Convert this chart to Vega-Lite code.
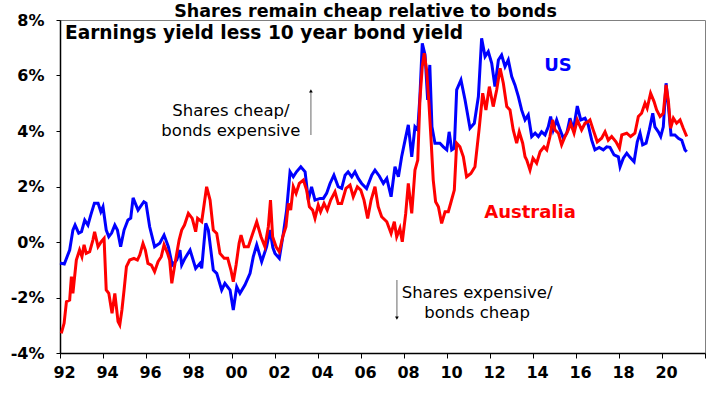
{
  "$schema": "https://vega.github.io/schema/vega-lite/v6.json",
  "width": 645,
  "height": 333,
  "autosize": {"type": "none"},
  "padding": {"left": 60, "top": 20, "right": 15, "bottom": 40},
  "background": "white",
  "title": {"text": "Shares remain cheap relative to bonds", "font": "DejaVu Sans", "fontSize": 17.5, "fontWeight": "bold", "anchor": "middle", "dx": -17, "dy": 10, "offset": 2, "color": "black"},
  "config": {
    "view": {"stroke": "#808080", "strokeWidth": 1},
    "axis": {"grid": false, "labelFont": "DejaVu Sans", "labelFontWeight": "bold", "labelFontSize": 16, "labelColor": "black", "domainColor": "black", "tickColor": "black", "title": null}
  },
  "datasets": {
    "series": [
      {"d":1992.0,"s":"US","v":-0.76},{"d":1992.2,"s":"US","v":-0.79},{"d":1992.45,"s":"US","v":-0.29},{"d":1992.6,"s":"US","v":0.43},{"d":1992.7,"s":"US","v":0.61},{"d":1992.87,"s":"US","v":0.32},{"d":1993.0,"s":"US","v":0.37},{"d":1993.15,"s":"US","v":0.79},{"d":1993.3,"s":"US","v":0.61},{"d":1993.43,"s":"US","v":0.97},{"d":1993.6,"s":"US","v":1.4},{"d":1993.77,"s":"US","v":1.4},{"d":1993.9,"s":"US","v":1.09},{"d":1994.0,"s":"US","v":1.27},{"d":1994.15,"s":"US","v":0.43},{"d":1994.27,"s":"US","v":0.19},{"d":1994.4,"s":"US","v":0.32},{"d":1994.55,"s":"US","v":0.61},{"d":1994.67,"s":"US","v":0.43},{"d":1994.82,"s":"US","v":-0.17},{"d":1994.98,"s":"US","v":0.43},{"d":1995.16,"s":"US","v":0.79},{"d":1995.29,"s":"US","v":0.86},{"d":1995.4,"s":"US","v":1.59},{"d":1995.63,"s":"US","v":1.15},{"d":1995.9,"s":"US","v":1.45},{"d":1996.0,"s":"US","v":1.4},{"d":1996.17,"s":"US","v":0.55},{"d":1996.4,"s":"US","v":-0.17},{"d":1996.64,"s":"US","v":-0.04},{"d":1996.84,"s":"US","v":0.25},{"d":1997.04,"s":"US","v":-0.17},{"d":1997.22,"s":"US","v":-0.83},{"d":1997.43,"s":"US","v":-0.65},{"d":1997.58,"s":"US","v":-0.29},{"d":1997.66,"s":"US","v":-0.83},{"d":1997.81,"s":"US","v":-0.59},{"d":1998.05,"s":"US","v":-0.29},{"d":1998.31,"s":"US","v":-0.95},{"d":1998.51,"s":"US","v":-0.77},{"d":1998.59,"s":"US","v":-0.95},{"d":1998.78,"s":"US","v":0.67},{"d":1998.9,"s":"US","v":0.43},{"d":1999.13,"s":"US","v":-1.01},{"d":1999.29,"s":"US","v":-1.13},{"d":1999.52,"s":"US","v":-1.73},{"d":1999.67,"s":"US","v":-1.49},{"d":1999.91,"s":"US","v":-1.73},{"d":2000.06,"s":"US","v":-2.45},{"d":2000.22,"s":"US","v":-1.61},{"d":2000.37,"s":"US","v":-1.85},{"d":2000.6,"s":"US","v":-1.55},{"d":2000.84,"s":"US","v":-1.13},{"d":2000.99,"s":"US","v":-0.53},{"d":2001.15,"s":"US","v":-0.1},{"d":2001.38,"s":"US","v":-0.71},{"d":2001.61,"s":"US","v":-0.17},{"d":2001.77,"s":"US","v":0.43},{"d":2001.9,"s":"US","v":-0.2},{"d":2002.0,"s":"US","v":-0.41},{"d":2002.2,"s":"US","v":-0.59},{"d":2002.39,"s":"US","v":0.32},{"d":2002.54,"s":"US","v":1.15},{"d":2002.7,"s":"US","v":2.53},{"d":2002.85,"s":"US","v":2.35},{"d":2003.0,"s":"US","v":2.53},{"d":2003.2,"s":"US","v":2.71},{"d":2003.4,"s":"US","v":2.53},{"d":2003.55,"s":"US","v":1.51},{"d":2003.7,"s":"US","v":1.99},{"d":2003.86,"s":"US","v":1.51},{"d":2004.1,"s":"US","v":1.57},{"d":2004.25,"s":"US","v":1.57},{"d":2004.4,"s":"US","v":1.75},{"d":2004.56,"s":"US","v":2.11},{"d":2004.74,"s":"US","v":2.41},{"d":2004.94,"s":"US","v":1.99},{"d":2005.1,"s":"US","v":1.93},{"d":2005.26,"s":"US","v":2.41},{"d":2005.4,"s":"US","v":2.53},{"d":2005.57,"s":"US","v":2.35},{"d":2005.72,"s":"US","v":2.53},{"d":2005.87,"s":"US","v":2.29},{"d":2006.03,"s":"US","v":2.11},{"d":2006.26,"s":"US","v":1.93},{"d":2006.5,"s":"US","v":2.41},{"d":2006.65,"s":"US","v":2.59},{"d":2006.85,"s":"US","v":2.38},{"d":2007.04,"s":"US","v":2.11},{"d":2007.2,"s":"US","v":2.29},{"d":2007.4,"s":"US","v":1.63},{"d":2007.58,"s":"US","v":2.71},{"d":2007.74,"s":"US","v":2.35},{"d":2007.89,"s":"US","v":3.07},{"d":2008.05,"s":"US","v":3.67},{"d":2008.2,"s":"US","v":4.22},{"d":2008.36,"s":"US","v":3.07},{"d":2008.51,"s":"US","v":4.15},{"d":2008.64,"s":"US","v":4.04},{"d":2008.74,"s":"US","v":5.24},{"d":2008.85,"s":"US","v":7.16},{"d":2008.98,"s":"US","v":6.74},{"d":2009.1,"s":"US","v":5.12},{"d":2009.2,"s":"US","v":6.38},{"d":2009.3,"s":"US","v":4.15},{"d":2009.44,"s":"US","v":3.56},{"d":2009.67,"s":"US","v":3.56},{"d":2009.83,"s":"US","v":3.43},{"d":2009.99,"s":"US","v":3.32},{"d":2010.1,"s":"US","v":3.97},{"d":2010.22,"s":"US","v":3.32},{"d":2010.34,"s":"US","v":3.38},{"d":2010.45,"s":"US","v":5.48},{"d":2010.65,"s":"US","v":5.84},{"d":2010.84,"s":"US","v":5.12},{"d":2011.07,"s":"US","v":4.1},{"d":2011.27,"s":"US","v":4.28},{"d":2011.46,"s":"US","v":5.24},{"d":2011.61,"s":"US","v":7.34},{"d":2011.77,"s":"US","v":6.68},{"d":2011.92,"s":"US","v":6.86},{"d":2012.08,"s":"US","v":6.44},{"d":2012.23,"s":"US","v":5.6},{"d":2012.39,"s":"US","v":6.56},{"d":2012.54,"s":"US","v":6.74},{"d":2012.7,"s":"US","v":6.32},{"d":2012.85,"s":"US","v":6.56},{"d":2013.01,"s":"US","v":5.96},{"d":2013.16,"s":"US","v":5.66},{"d":2013.32,"s":"US","v":5.24},{"d":2013.47,"s":"US","v":4.76},{"d":2013.63,"s":"US","v":4.4},{"d":2013.78,"s":"US","v":4.58},{"d":2013.94,"s":"US","v":3.8},{"d":2014.1,"s":"US","v":3.92},{"d":2014.25,"s":"US","v":3.8},{"d":2014.4,"s":"US","v":3.97},{"d":2014.56,"s":"US","v":3.86},{"d":2014.71,"s":"US","v":4.15},{"d":2014.82,"s":"US","v":4.52},{"d":2014.94,"s":"US","v":4.04},{"d":2015.1,"s":"US","v":4.4},{"d":2015.26,"s":"US","v":4.04},{"d":2015.41,"s":"US","v":3.74},{"d":2015.57,"s":"US","v":3.92},{"d":2015.72,"s":"US","v":4.46},{"d":2015.88,"s":"US","v":4.04},{"d":2016.06,"s":"US","v":4.9},{"d":2016.22,"s":"US","v":4.4},{"d":2016.42,"s":"US","v":4.46},{"d":2016.57,"s":"US","v":4.22},{"d":2016.73,"s":"US","v":3.67},{"d":2016.88,"s":"US","v":3.32},{"d":2017.08,"s":"US","v":3.41},{"d":2017.27,"s":"US","v":3.32},{"d":2017.43,"s":"US","v":3.43},{"d":2017.58,"s":"US","v":3.41},{"d":2017.77,"s":"US","v":3.14},{"d":2017.97,"s":"US","v":3.07},{"d":2018.05,"s":"US","v":2.71},{"d":2018.2,"s":"US","v":3.02},{"d":2018.36,"s":"US","v":3.2},{"d":2018.51,"s":"US","v":3.05},{"d":2018.7,"s":"US","v":2.89},{"d":2018.85,"s":"US","v":3.61},{"d":2018.98,"s":"US","v":3.92},{"d":2019.1,"s":"US","v":3.5},{"d":2019.26,"s":"US","v":3.56},{"d":2019.41,"s":"US","v":4.04},{"d":2019.57,"s":"US","v":4.64},{"d":2019.67,"s":"US","v":4.15},{"d":2019.83,"s":"US","v":3.97},{"d":2019.94,"s":"US","v":3.8},{"d":2020.06,"s":"US","v":4.15},{"d":2020.19,"s":"US","v":5.72},{"d":2020.3,"s":"US","v":4.88},{"d":2020.42,"s":"US","v":3.86},{"d":2020.6,"s":"US","v":3.86},{"d":2020.76,"s":"US","v":3.74},{"d":2020.92,"s":"US","v":3.67},{"d":2021.07,"s":"US","v":3.32},{"d":2021.15,"s":"US","v":3.25},
      {"d":1992.06,"s":"Australia","v":-3.29},{"d":1992.19,"s":"Australia","v":-2.93},{"d":1992.3,"s":"Australia","v":-2.15},{"d":1992.45,"s":"Australia","v":-2.09},{"d":1992.53,"s":"Australia","v":-1.25},{"d":1992.6,"s":"Australia","v":-1.85},{"d":1992.76,"s":"Australia","v":-0.65},{"d":1992.91,"s":"Australia","v":-0.29},{"d":1993.02,"s":"Australia","v":-0.53},{"d":1993.12,"s":"Australia","v":-0.1},{"d":1993.22,"s":"Australia","v":-0.41},{"d":1993.38,"s":"Australia","v":-0.35},{"d":1993.53,"s":"Australia","v":0.07},{"d":1993.61,"s":"Australia","v":0.37},{"d":1993.77,"s":"Australia","v":-0.17},{"d":1993.92,"s":"Australia","v":0.01},{"d":1994.05,"s":"Australia","v":0.13},{"d":1994.15,"s":"Australia","v":-1.73},{"d":1994.27,"s":"Australia","v":-1.85},{"d":1994.42,"s":"Australia","v":-2.57},{"d":1994.55,"s":"Australia","v":-1.85},{"d":1994.7,"s":"Australia","v":-2.87},{"d":1994.78,"s":"Australia","v":-2.99},{"d":1994.88,"s":"Australia","v":-2.45},{"d":1994.98,"s":"Australia","v":-1.73},{"d":1995.09,"s":"Australia","v":-0.89},{"d":1995.24,"s":"Australia","v":-0.65},{"d":1995.44,"s":"Australia","v":-0.59},{"d":1995.6,"s":"Australia","v":-0.65},{"d":1995.71,"s":"Australia","v":-0.47},{"d":1995.86,"s":"Australia","v":-0.05},{"d":1995.97,"s":"Australia","v":-0.29},{"d":1996.09,"s":"Australia","v":-0.77},{"d":1996.25,"s":"Australia","v":-0.83},{"d":1996.4,"s":"Australia","v":-1.07},{"d":1996.56,"s":"Australia","v":-0.71},{"d":1996.71,"s":"Australia","v":-0.53},{"d":1996.84,"s":"Australia","v":-0.1},{"d":1997.0,"s":"Australia","v":-0.4},{"d":1997.1,"s":"Australia","v":-0.65},{"d":1997.2,"s":"Australia","v":-1.49},{"d":1997.35,"s":"Australia","v":-0.77},{"d":1997.54,"s":"Australia","v":0.07},{"d":1997.66,"s":"Australia","v":0.43},{"d":1997.79,"s":"Australia","v":0.61},{"d":1997.97,"s":"Australia","v":1.03},{"d":1998.15,"s":"Australia","v":0.85},{"d":1998.31,"s":"Australia","v":0.37},{"d":1998.4,"s":"Australia","v":0.85},{"d":1998.59,"s":"Australia","v":0.73},{"d":1998.71,"s":"Australia","v":1.39},{"d":1998.82,"s":"Australia","v":1.99},{"d":1998.98,"s":"Australia","v":1.51},{"d":1999.13,"s":"Australia","v":0.43},{"d":1999.29,"s":"Australia","v":0.31},{"d":1999.44,"s":"Australia","v":-0.41},{"d":1999.64,"s":"Australia","v":-0.59},{"d":1999.8,"s":"Australia","v":-0.59},{"d":1999.95,"s":"Australia","v":-1.01},{"d":2000.06,"s":"Australia","v":-1.43},{"d":2000.19,"s":"Australia","v":-0.83},{"d":2000.33,"s":"Australia","v":-0.05},{"d":2000.42,"s":"Australia","v":0.25},{"d":2000.57,"s":"Australia","v":-0.17},{"d":2000.76,"s":"Australia","v":-0.17},{"d":2000.94,"s":"Australia","v":0.25},{"d":2001.15,"s":"Australia","v":0.73},{"d":2001.35,"s":"Australia","v":0.19},{"d":2001.53,"s":"Australia","v":-0.17},{"d":2001.69,"s":"Australia","v":0.55},{"d":2001.79,"s":"Australia","v":1.51},{"d":2001.89,"s":"Australia","v":0.19},{"d":2002.05,"s":"Australia","v":-0.17},{"d":2002.2,"s":"Australia","v":-0.35},{"d":2002.36,"s":"Australia","v":0.19},{"d":2002.51,"s":"Australia","v":0.55},{"d":2002.62,"s":"Australia","v":1.39},{"d":2002.73,"s":"Australia","v":1.15},{"d":2002.85,"s":"Australia","v":1.99},{"d":2002.98,"s":"Australia","v":1.75},{"d":2003.13,"s":"Australia","v":2.11},{"d":2003.32,"s":"Australia","v":2.23},{"d":2003.47,"s":"Australia","v":1.87},{"d":2003.6,"s":"Australia","v":1.27},{"d":2003.75,"s":"Australia","v":1.15},{"d":2003.86,"s":"Australia","v":0.85},{"d":2004.01,"s":"Australia","v":1.33},{"d":2004.12,"s":"Australia","v":1.09},{"d":2004.28,"s":"Australia","v":1.39},{"d":2004.43,"s":"Australia","v":1.15},{"d":2004.59,"s":"Australia","v":1.51},{"d":2004.79,"s":"Australia","v":1.81},{"d":2004.94,"s":"Australia","v":1.39},{"d":2005.1,"s":"Australia","v":1.39},{"d":2005.3,"s":"Australia","v":1.93},{"d":2005.49,"s":"Australia","v":2.05},{"d":2005.64,"s":"Australia","v":1.63},{"d":2005.83,"s":"Australia","v":1.99},{"d":2005.99,"s":"Australia","v":1.87},{"d":2006.14,"s":"Australia","v":1.51},{"d":2006.31,"s":"Australia","v":0.85},{"d":2006.47,"s":"Australia","v":1.51},{"d":2006.65,"s":"Australia","v":1.99},{"d":2006.8,"s":"Australia","v":1.27},{"d":2006.96,"s":"Australia","v":0.91},{"d":2007.2,"s":"Australia","v":0.73},{"d":2007.4,"s":"Australia","v":0.31},{"d":2007.55,"s":"Australia","v":0.73},{"d":2007.66,"s":"Australia","v":0.19},{"d":2007.81,"s":"Australia","v":0.49},{"d":2007.92,"s":"Australia","v":0.01},{"d":2008.08,"s":"Australia","v":1.03},{"d":2008.2,"s":"Australia","v":2.11},{"d":2008.36,"s":"Australia","v":1.03},{"d":2008.51,"s":"Australia","v":2.59},{"d":2008.64,"s":"Australia","v":2.95},{"d":2008.74,"s":"Australia","v":5.12},{"d":2008.85,"s":"Australia","v":6.32},{"d":2008.94,"s":"Australia","v":6.8},{"d":2009.05,"s":"Australia","v":6.2},{"d":2009.16,"s":"Australia","v":5.0},{"d":2009.26,"s":"Australia","v":3.67},{"d":2009.36,"s":"Australia","v":2.23},{"d":2009.47,"s":"Australia","v":1.45},{"d":2009.6,"s":"Australia","v":1.27},{"d":2009.75,"s":"Australia","v":0.67},{"d":2009.91,"s":"Australia","v":1.09},{"d":2010.06,"s":"Australia","v":1.09},{"d":2010.19,"s":"Australia","v":1.45},{"d":2010.34,"s":"Australia","v":1.87},{"d":2010.45,"s":"Australia","v":3.56},{"d":2010.6,"s":"Australia","v":3.43},{"d":2010.76,"s":"Australia","v":3.07},{"d":2010.91,"s":"Australia","v":2.35},{"d":2011.11,"s":"Australia","v":2.47},{"d":2011.3,"s":"Australia","v":2.71},{"d":2011.49,"s":"Australia","v":4.04},{"d":2011.66,"s":"Australia","v":5.36},{"d":2011.81,"s":"Australia","v":4.76},{"d":2011.97,"s":"Australia","v":5.6},{"d":2012.15,"s":"Australia","v":4.88},{"d":2012.31,"s":"Australia","v":5.48},{"d":2012.47,"s":"Australia","v":6.26},{"d":2012.62,"s":"Australia","v":5.72},{"d":2012.78,"s":"Australia","v":4.88},{"d":2012.93,"s":"Australia","v":4.76},{"d":2013.08,"s":"Australia","v":4.04},{"d":2013.24,"s":"Australia","v":3.56},{"d":2013.36,"s":"Australia","v":3.97},{"d":2013.52,"s":"Australia","v":3.56},{"d":2013.63,"s":"Australia","v":3.07},{"d":2013.71,"s":"Australia","v":2.95},{"d":2013.86,"s":"Australia","v":2.59},{"d":2014.0,"s":"Australia","v":3.02},{"d":2014.17,"s":"Australia","v":2.84},{"d":2014.33,"s":"Australia","v":3.25},{"d":2014.51,"s":"Australia","v":3.43},{"d":2014.64,"s":"Australia","v":3.32},{"d":2014.79,"s":"Australia","v":3.8},{"d":2014.91,"s":"Australia","v":4.4},{"d":2015.02,"s":"Australia","v":4.04},{"d":2015.18,"s":"Australia","v":3.92},{"d":2015.33,"s":"Australia","v":3.5},{"d":2015.49,"s":"Australia","v":3.8},{"d":2015.64,"s":"Australia","v":4.04},{"d":2015.75,"s":"Australia","v":4.28},{"d":2015.91,"s":"Australia","v":3.92},{"d":2016.06,"s":"Australia","v":4.4},{"d":2016.26,"s":"Australia","v":4.04},{"d":2016.42,"s":"Australia","v":4.28},{"d":2016.57,"s":"Australia","v":4.34},{"d":2016.65,"s":"Australia","v":4.4},{"d":2016.8,"s":"Australia","v":4.04},{"d":2016.99,"s":"Australia","v":3.61},{"d":2017.19,"s":"Australia","v":3.74},{"d":2017.35,"s":"Australia","v":3.97},{"d":2017.5,"s":"Australia","v":3.67},{"d":2017.66,"s":"Australia","v":3.8},{"d":2017.86,"s":"Australia","v":3.61},{"d":2018.02,"s":"Australia","v":3.38},{"d":2018.13,"s":"Australia","v":3.86},{"d":2018.36,"s":"Australia","v":3.92},{"d":2018.54,"s":"Australia","v":3.8},{"d":2018.74,"s":"Australia","v":3.92},{"d":2018.9,"s":"Australia","v":4.52},{"d":2019.05,"s":"Australia","v":4.64},{"d":2019.21,"s":"Australia","v":5.0},{"d":2019.31,"s":"Australia","v":4.82},{"d":2019.47,"s":"Australia","v":5.36},{"d":2019.63,"s":"Australia","v":5.06},{"d":2019.75,"s":"Australia","v":4.76},{"d":2019.91,"s":"Australia","v":4.52},{"d":2020.06,"s":"Australia","v":4.64},{"d":2020.19,"s":"Australia","v":5.66},{"d":2020.3,"s":"Australia","v":5.06},{"d":2020.4,"s":"Australia","v":4.1},{"d":2020.53,"s":"Australia","v":4.46},{"d":2020.68,"s":"Australia","v":4.28},{"d":2020.84,"s":"Australia","v":4.4},{"d":2020.99,"s":"Australia","v":4.1},{"d":2021.15,"s":"Australia","v":3.8}
    ]
  },
  "layer": [
    {
      "data": {"name": "series"},
      "mark": {"type": "line", "strokeWidth": 3, "interpolate": "linear"},
      "encoding": {
        "x": {"field": "d", "type": "quantitative",
              "scale": {"domain": [1992, 2022], "nice": false, "zero": false},
              "axis": {"values": [1992,1994,1996,1998,2000,2002,2004,2006,2008,2010,2012,2014,2016,2018,2020,2022],
                       "labelExpr": "datum.value >= 2022 ? '' : substring(toString(datum.value), 2)",
                       "labelFlush": false, "labelOffset": 4, "labelOverlap": false,
                       "tickSize": 5, "labelPadding": 6, "domainWidth": 1.5}},
        "y": {"field": "v", "type": "quantitative",
              "scale": {"domain": [-4, 8], "nice": false, "zero": false},
              "axis": {"values": [-4,-2,0,2,4,6,8], "labelExpr": "datum.value + '%'", "labelFlush": false, "tickSize": 4, "labelPadding": 12, "domainWidth": 1.5}},
        "color": {"field": "s", "type": "nominal", "scale": {"domain": ["US", "Australia"], "range": ["#0000FF", "#FF0000"]}, "legend": null},
        "order": {"field": "d", "type": "quantitative"}
      }
    },
    {
      "data": {"values": [{}]},
      "mark": {"type": "text", "text": "Earnings yield less 10 year bond yield", "font": "DejaVu Sans", "fontSize": 18.6, "fontWeight": "bold", "align": "left", "baseline": "middle", "color": "black"},
      "encoding": {"x": {"datum": 1992.23}, "y": {"datum": 7.53}}
    },
    {
      "data": {"values": [{}]},
      "mark": {"type": "text", "text": ["Shares cheap/", "bonds expensive"], "font": "DejaVu Sans", "fontSize": 16.5, "align": "center", "baseline": "middle", "lineHeight": 20, "color": "black"},
      "encoding": {"x": {"datum": 1999.95}, "y": {"datum": 4.72}}
    },
    {
      "data": {"values": [{}]},
      "mark": {"type": "text", "text": ["Shares expensive/", "bonds cheap"], "font": "DejaVu Sans", "fontSize": 16.5, "align": "center", "baseline": "middle", "lineHeight": 20, "color": "black"},
      "encoding": {"x": {"datum": 2011.4}, "y": {"datum": -1.84}}
    },
    {
      "data": {"values": [{}]},
      "mark": {"type": "text", "text": "US", "font": "DejaVu Sans", "fontSize": 18, "fontWeight": "bold", "align": "center", "baseline": "middle", "color": "#0000FF"},
      "encoding": {"x": {"datum": 2015.16}, "y": {"datum": 6.34}}
    },
    {
      "data": {"values": [{}]},
      "mark": {"type": "text", "text": "Australia", "font": "DejaVu Sans", "fontSize": 18, "fontWeight": "bold", "align": "center", "baseline": "middle", "color": "#FF0000"},
      "encoding": {"x": {"datum": 2013.86}, "y": {"datum": 1.05}}
    },
    {
      "data": {"values": [{}]},
      "mark": {"type": "rule", "color": "#808080", "strokeWidth": 1.2},
      "encoding": {"x": {"datum": 2003.67}, "y": {"datum": 3.86}, "y2": {"datum": 5.42}}
    },
    {
      "data": {"values": [{}]},
      "mark": {"type": "point", "shape": "triangle-up", "size": 14, "filled": true, "color": "black", "opacity": 1},
      "encoding": {"x": {"datum": 2003.67}, "y": {"datum": 5.45}}
    },
    {
      "data": {"values": [{}]},
      "mark": {"type": "rule", "color": "#808080", "strokeWidth": 1.2},
      "encoding": {"x": {"datum": 2007.67}, "y": {"datum": -1.37}, "y2": {"datum": -2.7}}
    },
    {
      "data": {"values": [{}]},
      "mark": {"type": "point", "shape": "triangle-down", "size": 14, "filled": true, "color": "black", "opacity": 1},
      "encoding": {"x": {"datum": 2007.67}, "y": {"datum": -2.74}}
    }
  ]
}
